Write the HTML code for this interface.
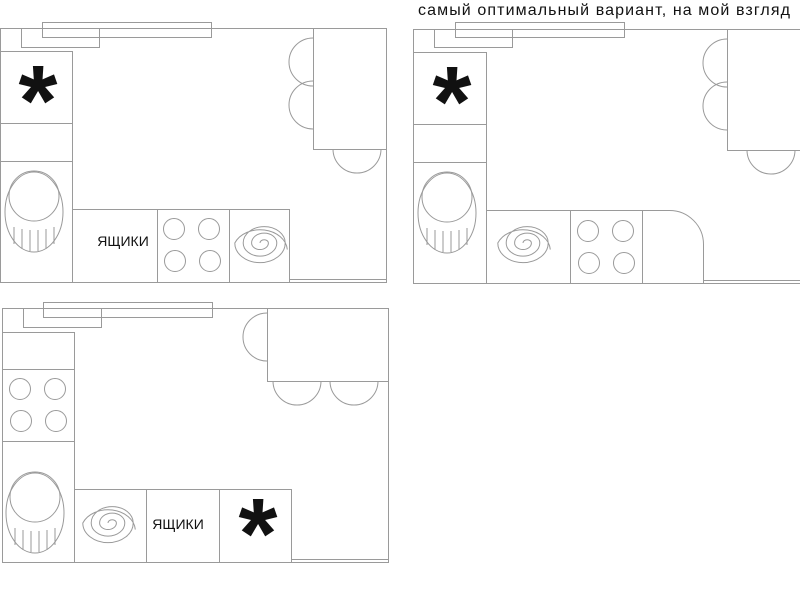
<!DOCTYPE html>
<html><head><meta charset="utf-8"><style>
html,body{margin:0;padding:0;background:#fff;width:800px;height:589px;overflow:hidden}
svg{display:block}
.l{fill:none;stroke:#9a9a9a;stroke-width:1}
.t{font-family:"Liberation Sans",sans-serif}
</style></head><body>
<svg width="800" height="589" viewBox="0 0 800 589">
<defs>
<g id="sink">
<ellipse cx="0" cy="0" rx="29" ry="40" class="l"/>
<circle cx="0" cy="-16" r="25" class="l" fill="#fff"/>
<path class="l" d="M-20,15 V32 M-12,17 V37 M-4,18 V39 M4,18 V39 M12,17 V37 M20,15 V32"/>
</g>
<g id="burn">
<circle cx="0" cy="0" r="10.5" class="l"/><circle cx="35" cy="0" r="10.5" class="l"/>
<circle cx="1" cy="32" r="10.5" class="l"/><circle cx="36" cy="32" r="10.5" class="l"/>
</g>
<g id="spir"><path class="l" vector-effect="non-scaling-stroke" transform="scale(1.05,0.82)" d="M0,0 a4,4 0 0 1 8,0 a8,8 0 0 1 -16,0 a12,12 0 0 1 24,0 a16,16 0 0 1 -32,0 a20,20 0 0 1 40,0 a24,24 0 0 1 -48,0 a26,26 0 0 1 50,8"/></g>
</defs>

<text x="418" y="15" class="t" font-size="16" letter-spacing="1.1" fill="#111">самый оптимальный вариант, на мой взгляд</text>

<!-- Diagram 1 -->
<rect x="0.5" y="28.5" width="386" height="254" class="l"/>
<rect x="42.5" y="22.5" width="169" height="15" class="l"/>
<rect x="21.5" y="28.5" width="78" height="19" class="l"/>
<rect x="0.5" y="51.5" width="72" height="231" class="l"/>
<path class="l" d="M0,123.5 H72 M0,161.5 H72"/>
<text x="38" y="135" class="t" font-size="100" font-weight="bold" text-anchor="middle" fill="#111">*</text>
<use href="#sink" x="34" y="212"/>
<rect x="72.5" y="209.5" width="217" height="73" class="l"/>
<path class="l" d="M157.5,209 V282 M229.5,209 V282"/>
<text x="123" y="246" class="t" font-size="14" text-anchor="middle" fill="#111">ЯЩИКИ</text>
<use href="#burn" x="174" y="229"/>
<use href="#spir" x="260" y="243"/>
<rect x="289.5" y="279.5" width="97" height="3" class="l"/>
<rect x="313.5" y="28.5" width="73" height="121" class="l"/>
<path class="l" d="M313,38 A24,24 0 0 0 313,86 M313,81 A24,24 0 0 0 313,129 M333,149 A24,24 0 0 0 381,149"/>

<!-- Diagram 2 -->
<path class="l" d="M800,29.5 H413.5 V283.5 H800"/>
<rect x="455.5" y="22.5" width="169" height="15" class="l"/>
<rect x="434.5" y="29.5" width="78" height="18" class="l"/>
<rect x="413.5" y="52.5" width="73" height="231" class="l"/>
<path class="l" d="M413,124.5 H486 M413,162.5 H486"/>
<text x="452" y="136" class="t" font-size="100" font-weight="bold" text-anchor="middle" fill="#111">*</text>
<use href="#sink" x="447" y="213"/>
<path class="l" d="M486.5,210.5 H669 A34,34 0 0 1 703.5,245 V283 M570.5,210 V283 M642.5,210 V283"/>
<use href="#spir" x="523" y="243"/>
<use href="#burn" x="588" y="231"/>
<rect x="703.5" y="280.5" width="97" height="3" class="l"/>
<path class="l" d="M800,150.5 H727.5 V29"/>
<path class="l" d="M727,39 A24,24 0 0 0 727,87 M727,82 A24,24 0 0 0 727,130 M747,150 A24,24 0 0 0 795,150"/>

<!-- Diagram 3 -->
<rect x="2.5" y="308.5" width="386" height="254" class="l"/>
<rect x="43.5" y="302.5" width="169" height="15" class="l"/>
<rect x="23.5" y="308.5" width="78" height="19" class="l"/>
<rect x="2.5" y="332.5" width="72" height="230" class="l"/>
<path class="l" d="M2,369.5 H74 M2,441.5 H74"/>
<use href="#burn" x="20" y="389"/>
<use href="#sink" x="35" y="513"/>
<rect x="74.5" y="489.5" width="217" height="73" class="l"/>
<path class="l" d="M146.5,489 V562 M219.5,489 V562"/>
<use href="#spir" x="108" y="523"/>
<text x="178" y="529" class="t" font-size="14" text-anchor="middle" fill="#111">ЯЩИКИ</text>
<text x="258" y="568" class="t" font-size="100" font-weight="bold" text-anchor="middle" fill="#111">*</text>
<rect x="291.5" y="559.5" width="97" height="3" class="l"/>
<rect x="267.5" y="308.5" width="121" height="73" class="l"/>
<path class="l" d="M267,313 A24,24 0 0 0 267,361 M273,381 A24,24 0 0 0 321,381 M330,381 A24,24 0 0 0 378,381"/>
</svg>
</body></html>
